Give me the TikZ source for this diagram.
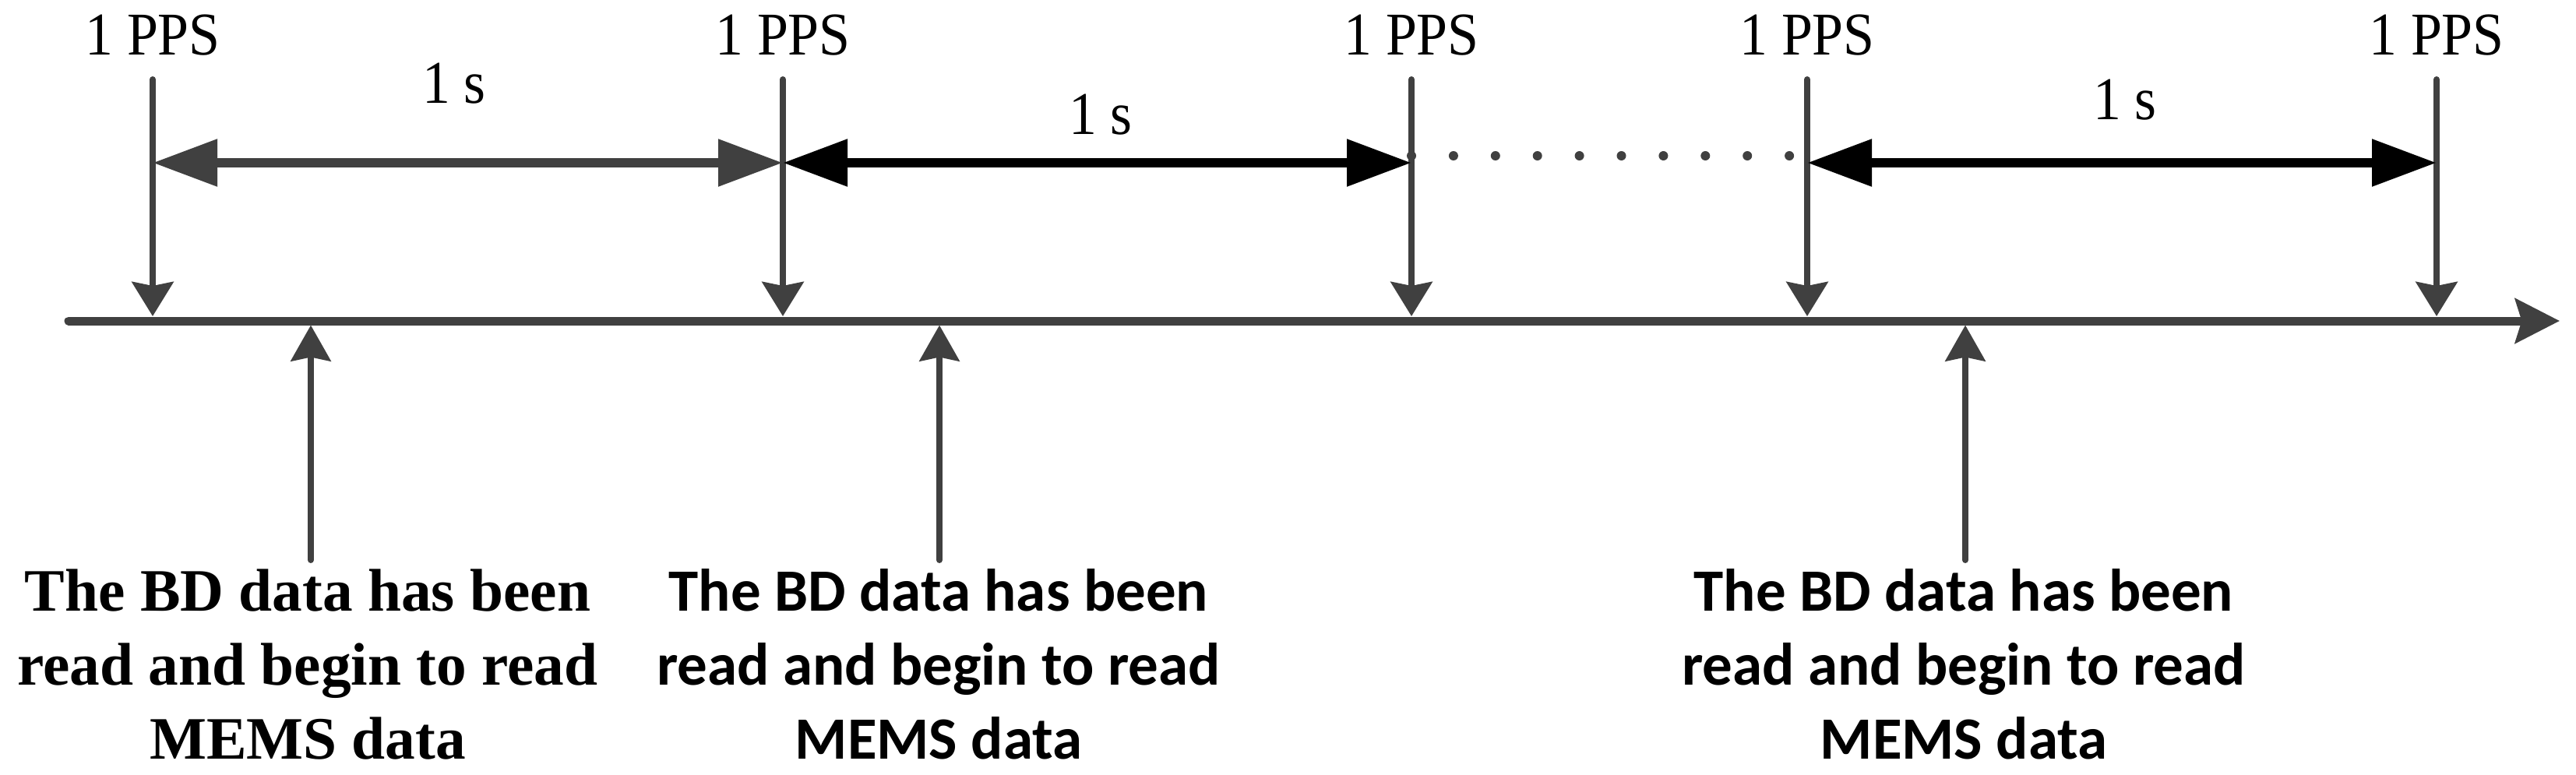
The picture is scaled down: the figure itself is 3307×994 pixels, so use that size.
\documentclass[tikz,border=0pt]{standalone}
\usepackage{graphicx}
\usepackage{fontspec}
\setmainfont{Liberation Serif}
\newfontfamily\tnr{Liberation Serif}
\newfontfamily\calib{Carlito}
\usetikzlibrary{arrows.meta}
\definecolor{dg}{RGB}{64,64,64}
\begin{document}
\begin{tikzpicture}[x=0.3pt,y=-0.3pt,
  lbl/.style={anchor=base,inner sep=0pt,font=\fontsize{23.4pt}{28pt}\selectfont\tnr},
  serifbold/.style={anchor=base,inner sep=0pt,font=\fontsize{23.2pt}{28pt}\selectfont\tnr\bfseries},
  sansbold/.style={anchor=base,inner sep=0pt,font=\fontsize{23.1pt}{28pt}\selectfont\calib\bfseries},
  tick/.style={draw=dg,line width=2.4pt,line cap=round,-{Stealth[length=13.2pt,width=15.9pt,inset=1.5pt]}},
  uparrow/.style={draw=dg,line width=2.4pt,line cap=round,-{Stealth[length=13.8pt,width=15.3pt,inset=1.5pt]}},
  axisline/.style={draw=dg,line width=3.3pt,line cap=round,-{Stealth[length=17.1pt,width=17.1pt,inset=2.5pt]}},
  span/.style={line width=3.6pt,{Triangle[length=24.9pt,width=17.4pt]}-{Triangle[length=24.9pt,width=17.4pt]}},
  dotline/.style={draw=dg,line width=3.6pt,line cap=round,dash pattern=on 0pt off 16.17pt}
]
\useasboundingbox (0,0) rectangle (3307,994);

% 1 PPS labels
\node[lbl] (p1) at (196,70) {\scalebox{0.92}[1]{1 PPS}};
\node[lbl] (p2) at (1005,70) {\scalebox{0.92}[1]{1 PPS}};
\node[lbl] (p3) at (1812,70) {\scalebox{0.92}[1]{1 PPS}};
\node[lbl] (p4) at (2320,70) {\scalebox{0.92}[1]{1 PPS}};
\node[lbl] (p5) at (3128,70) {\scalebox{0.92}[1]{1 PPS}};

% 1 s labels
\node[lbl] (s1) at (583,132) {\scalebox{0.92}[1]{1 s}};
\node[lbl] (s2) at (1413,172) {\scalebox{0.92}[1]{1 s}};
\node[lbl] (s3) at (2728,153) {\scalebox{0.92}[1]{1 s}};

% coordinates
\foreach \i/\x in {1/196,2/1005,3/1812,4/2320,5/3128}{
  \coordinate (t\i) at (\x,102);
  \coordinate (b\i) at (\x,406);
  \coordinate (d\i) at (\x,209);
}
\coordinate (a0) at (88,412);
\coordinate (aend) at (3286,412);
\coordinate (dotA) at (1812,200);
\coordinate (dotB) at (2300,200);

% axis
\draw[axisline] (a0) -- (aend);

% vertical pulses
\foreach \i in {1,...,5}{ \draw[tick] (t\i) -- (b\i); }

% span arrows
\draw[span,draw=dg,fill=dg] (d1) -- (d2);
\draw[span,draw=black,fill=black] (d2) -- (d3);
\draw[dotline] (dotA) -- (dotB);
\draw[span,draw=black,fill=black] (d4) -- (d5);

% bottom labels
\node[serifbold] (m1a) at (395,784) {The BD data has been};
\node[serifbold] (m1b) at (395,879) {read and begin to read};
\node[serifbold] (m1c) at (395,974) {MEMS data};

\node[sansbold] (m2a) at (1205,784) {The BD data has been};
\node[sansbold] (m2b) at (1205,879) {read and begin to read};
\node[sansbold] (m2c) at (1205,974) {MEMS data};

\node[sansbold] (m3a) at (2521,784) {The BD data has been};
\node[sansbold] (m3b) at (2521,879) {read and begin to read};
\node[sansbold] (m3c) at (2521,974) {MEMS data};

% up arrows
\coordinate (u1) at (399,719);  \coordinate (v1) at (399,417.5);
\coordinate (u2) at (1206,719); \coordinate (v2) at (1206,417.5);
\coordinate (u3) at (2523,719); \coordinate (v3) at (2523,417.5);
\draw[uparrow] (u1) -- (v1);
\draw[uparrow] (u2) -- (v2);
\draw[uparrow] (u3) -- (v3);
\end{tikzpicture}
\end{document}
